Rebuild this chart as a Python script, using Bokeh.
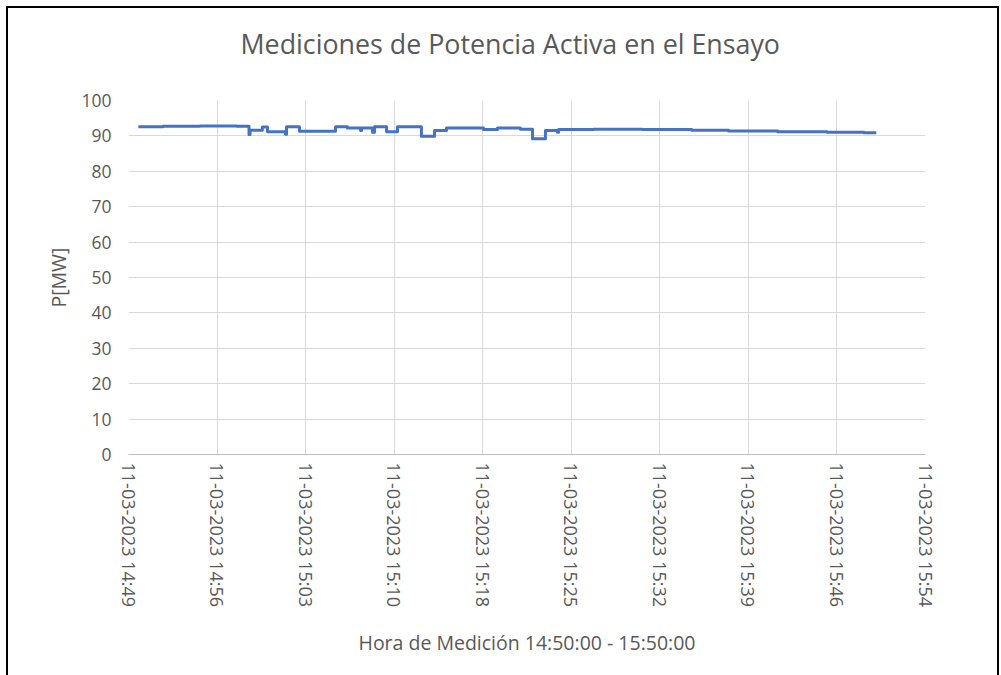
import math
from datetime import datetime
from bokeh.plotting import figure
from bokeh.models import Range1d, FixedTicker, DatetimeTickFormatter, Title
from bokeh.embed import file_html
from bokeh.resources import INLINE

DATE = "2023-03-11"

# Step breakpoints of the measured active power (time, MW)
times = ["14:50:00", "14:52:00", "14:55:00", "14:58:00", "14:59:00", "14:59:05",
         "15:00:05", "15:00:30", "15:01:58", "15:02:03", "15:03:06", "15:06:02",
         "15:07:00", "15:08:04", "15:08:09", "15:09:02", "15:09:12", "15:10:11",
         "15:11:04", "15:13:01", "15:14:05", "15:15:03", "15:18:04", "15:19:12",
         "15:21:04", "15:22:03", "15:23:06", "15:24:05", "15:24:10", "15:27:00",
         "15:31:00", "15:35:00", "15:38:00", "15:42:00", "15:46:00", "15:49:00",
         "15:50:00"]
power_mw = [92.6, 92.7, 92.8, 92.7, 90.4, 91.6,
            92.5, 91.2, 90.5, 92.6, 91.3, 92.6,
            92.2, 91.5, 92.2, 91.0, 92.6, 91.2,
            92.6, 89.9, 91.5, 92.2, 91.8, 92.2,
            91.9, 89.2, 91.5, 91.0, 91.8, 91.9,
            91.8, 91.6, 91.4, 91.2, 91.0, 90.9,
            90.9]

x_tick_times = ["14:49:12", "14:56:24", "15:03:36", "15:10:48", "15:18:00",
                "15:25:12", "15:32:24", "15:39:36", "15:46:48", "15:54:00"]
y_ticks = [0, 10, 20, 30, 40, 50, 60, 70, 80, 90, 100]

TITLE = "Mediciones de Potencia Activa en el Ensayo"
X_LABEL = "Hora de Medición 14:50:00 - 15:50:00"
Y_LABEL = "P[MW]"


def ts(t):
    return datetime.strptime(DATE + " " + t, "%Y-%m-%d %H:%M:%S")


def ms(t):
    return (ts(t) - datetime(1970, 1, 1)).total_seconds() * 1000.0


GREY_TXT = "#595959"
FONT = "Open Sans"

p = figure(width=989, height=667, x_axis_type="datetime", title=None,
           output_backend="svg", toolbar_location=None,
           x_range=Range1d(ts(x_tick_times[0]), ts(x_tick_times[-1])),
           y_range=Range1d(0, 100),
           min_border_left=120, min_border_right=72,
           min_border_top=92, min_border_bottom=221)

# chart-area frame: shift by 8px and draw a black line on left, top, right
p.styles = {"margin": "8px 0 0 8px",
            "box-shadow": "-2px 0 0 0 #000, 2px 0 0 0 #000, 0 -2px 0 0 #000, "
                          "-2px -2px 0 0 #000, 2px -2px 0 0 #000"}

p.outline_line_color = None
p.background_fill_color = "white"
p.border_fill_color = "white"

# spacer between frame and title, then the title itself
p.add_layout(Title(text=" ", text_font_size="8px", standoff=23), "above")
p.add_layout(Title(text=TITLE, align="left", offset=112, text_font=FONT,
                   text_font_size="26.8px", text_font_style="normal",
                   text_color=GREY_TXT), "above")

xticker = FixedTicker(ticks=[ms(t) for t in x_tick_times])
yticker = FixedTicker(ticks=y_ticks)

fmt = "%d-%m-%Y %H:%M"
p.xaxis.ticker = xticker
p.xaxis.formatter = DatetimeTickFormatter(
    microseconds=fmt, milliseconds=fmt, seconds=fmt, minsec=fmt, minutes=fmt,
    hourmin=fmt, hours=fmt, days=fmt, months=fmt, years=fmt)
p.xaxis.major_label_orientation = -math.pi / 2
p.xaxis.major_label_text_font = FONT
p.xaxis.major_label_text_font_size = "18px"
p.xaxis.major_label_text_color = GREY_TXT
p.xaxis.major_label_standoff = 8
p.xaxis.axis_line_color = "#bfbfbf"
p.xaxis.axis_line_width = 1
p.xaxis.major_tick_line_color = None
p.xaxis.minor_tick_line_color = None
p.xaxis.major_tick_out = 0
p.xaxis.major_tick_in = 0
p.xaxis.axis_label = X_LABEL
p.xaxis.axis_label_text_font = FONT
p.xaxis.axis_label_text_font_size = "19.5px"
p.xaxis.axis_label_text_font_style = "normal"
p.xaxis.axis_label_text_color = GREY_TXT
p.xaxis.axis_label_standoff = 19

p.yaxis.ticker = yticker
p.yaxis.major_label_text_font = FONT
p.yaxis.major_label_text_font_size = "17.5px"
p.yaxis.major_label_text_color = GREY_TXT
p.yaxis.major_label_standoff = 11
p.yaxis.axis_line_color = None
p.yaxis.major_tick_line_color = None
p.yaxis.minor_tick_line_color = None
p.yaxis.axis_label = Y_LABEL
p.yaxis.axis_label_text_font = FONT
p.yaxis.axis_label_text_font_size = "19.5px"
p.yaxis.axis_label_text_font_style = "normal"
p.yaxis.axis_label_text_color = GREY_TXT
p.yaxis.axis_label_standoff = 6

p.xgrid.ticker = xticker
p.ygrid.ticker = yticker
p.xgrid.grid_line_color = "#d9d9d9"
p.ygrid.grid_line_color = "#d9d9d9"
p.xgrid.grid_line_width = 1
p.ygrid.grid_line_width = 1

p.step([ts(t) for t in times], power_mw, mode="after",
       line_color="#4472C4", line_width=3, line_join="round")

open("out.html", "w").write(file_html(p, INLINE))
